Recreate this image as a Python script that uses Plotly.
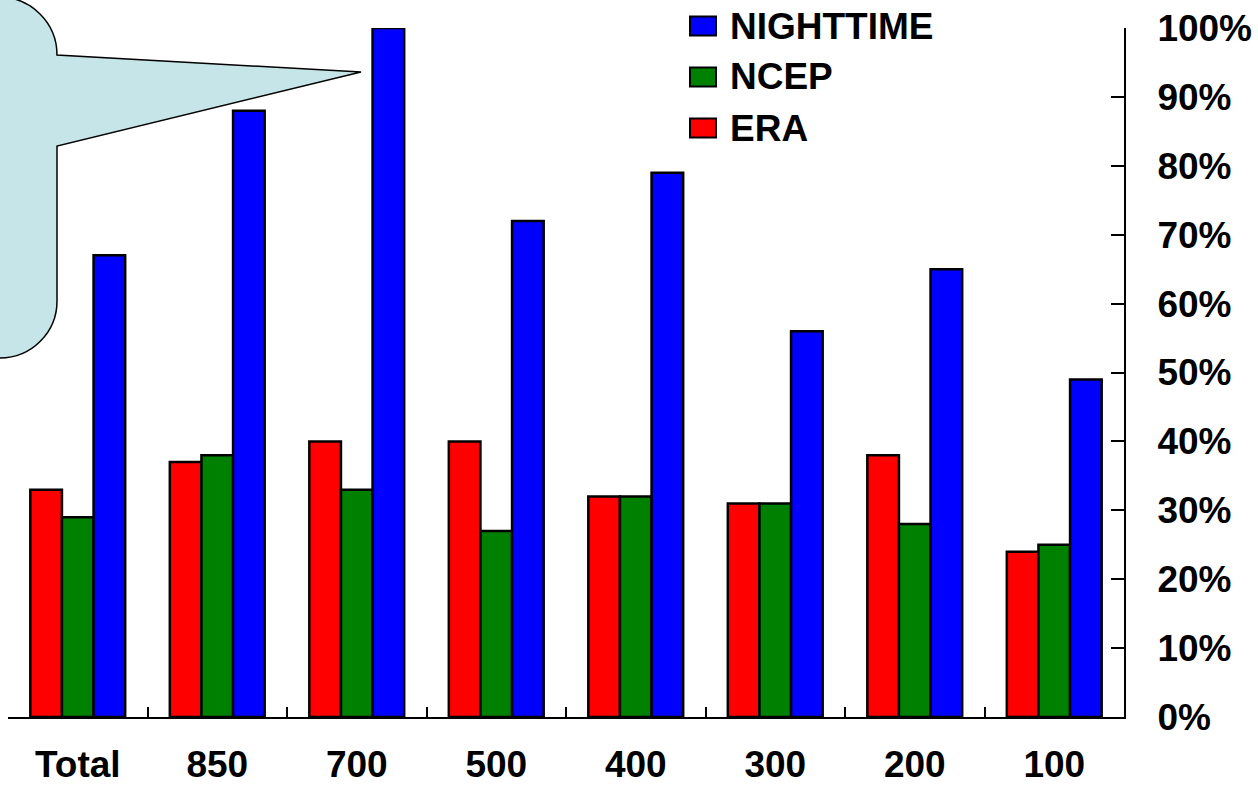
import plotly.graph_objects as go

# Pressure levels (hPa) plus the overall total
categories = ["Total", "850", "700", "500", "400", "300", "200", "100"]

# Percentages for each data set
era = [33, 37, 40, 40, 32, 31, 38, 24]
ncep = [29, 38, 33, 27, 32, 31, 28, 25]
nighttime = [67, 88, 100, 72, 79, 56, 65, 49]

series_names = ["ERA", "NCEP", "NIGHTTIME"]
series_values = [era, ncep, nighttime]
series_colors = ["#FF0000", "#008000", "#0000FF"]

y_ticks = list(range(0, 101, 10))
y_tick_text = [f"{v}%" for v in y_ticks]

W, H = 1258, 785
PLOT_L, PLOT_R, PLOT_T, PLOT_B = 8, 1124, 28, 717
FONT = "Liberation Sans, Arial, Helvetica, sans-serif"
FSIZE = 37


def px(x):
    """Pixel x -> paper x."""
    return (x - PLOT_L) / (PLOT_R - PLOT_L)


def py(y):
    """Pixel y -> paper y."""
    return (PLOT_B - y) / (PLOT_B - PLOT_T)


fig = go.Figure()
for name, vals, col in zip(series_names, series_values, series_colors):
    fig.add_trace(go.Bar(
        x=categories, y=vals, name=name,
        marker=dict(color=col, line=dict(color="black", width=2.5)),
        showlegend=False,
    ))

# Speech-bubble callout pointing at the 700 hPa bar
k = 0.552
r_top, r_bot = 58, 57
pts = [
    ("M", [(-300, -3)]),
    ("L", [(-1, -3)]),
    ("C", [(-1 + k * r_top, -3), (57, 55 - k * r_top), (57, 55)]),
    ("L", [(361, 72)]),
    ("L", [(57, 146)]),
    ("L", [(57, 301)]),
    ("C", [(57, 301 + k * r_bot), (0 + k * r_bot, 358), (0, 358)]),
    ("L", [(-300, 358)]),
]
path = ""
for cmd, coords in pts:
    path += cmd + " ".join(f"{px(x):.5f},{py(y):.5f}" for x, y in coords) + " "
path += "Z"

shapes = [dict(type="path", path=path, xref="paper", yref="paper",
               fillcolor="#C5E5E8", line=dict(color="black", width=1.5),
               layer="above")]

# Legend drawn as swatches + labels (top-down order: NIGHTTIME, NCEP, ERA)
annotations = []
legend_rows = [26, 77, 128]
for row_y, name, col in zip(legend_rows, series_names[::-1], series_colors[::-1]):
    shapes.append(dict(type="rect", xref="paper", yref="paper",
                       x0=px(690), x1=px(716), y0=py(row_y - 9.5), y1=py(row_y + 9.5),
                       fillcolor=col, line=dict(color="black", width=2),
                       layer="above"))
    annotations.append(dict(text=name, xref="paper", yref="paper",
                            x=px(728), y=py(row_y), xanchor="left", yanchor="middle",
                            showarrow=False,
                            font=dict(family=FONT, size=FSIZE, color="black", weight="bold")))

fig.update_layout(
    width=W, height=H,
    margin=dict(l=PLOT_L, r=W - PLOT_R, t=PLOT_T, b=H - PLOT_B, pad=0, autoexpand=False),
    paper_bgcolor="white", plot_bgcolor="white",
    barmode="group", bargap=0.32, bargroupgap=0,
    shapes=shapes, annotations=annotations,
    showlegend=False,
    xaxis=dict(
        type="category", range=[-0.5, len(categories) - 0.5],
        automargin=False,
        showline=True, linecolor="black", linewidth=2,
        ticks="inside", tickson="boundaries", ticklen=10, tickwidth=2, tickcolor="black",
        showgrid=False, zeroline=False,
        ticklabelstandoff=14,
        tickfont=dict(family=FONT, size=FSIZE, color="black", weight="bold"),
    ),
    yaxis=dict(
        side="right", range=[0, 100], automargin=False,
        tickvals=y_ticks, ticktext=y_tick_text,
        showline=True, linecolor="black", linewidth=2,
        ticks="inside", ticklen=13, tickwidth=2, tickcolor="black",
        showgrid=False, zeroline=False,
        ticklabelstandoff=24,
        tickfont=dict(family=FONT, size=FSIZE, color="black", weight="bold"),
    ),
)

fig.write_html("out.html")
